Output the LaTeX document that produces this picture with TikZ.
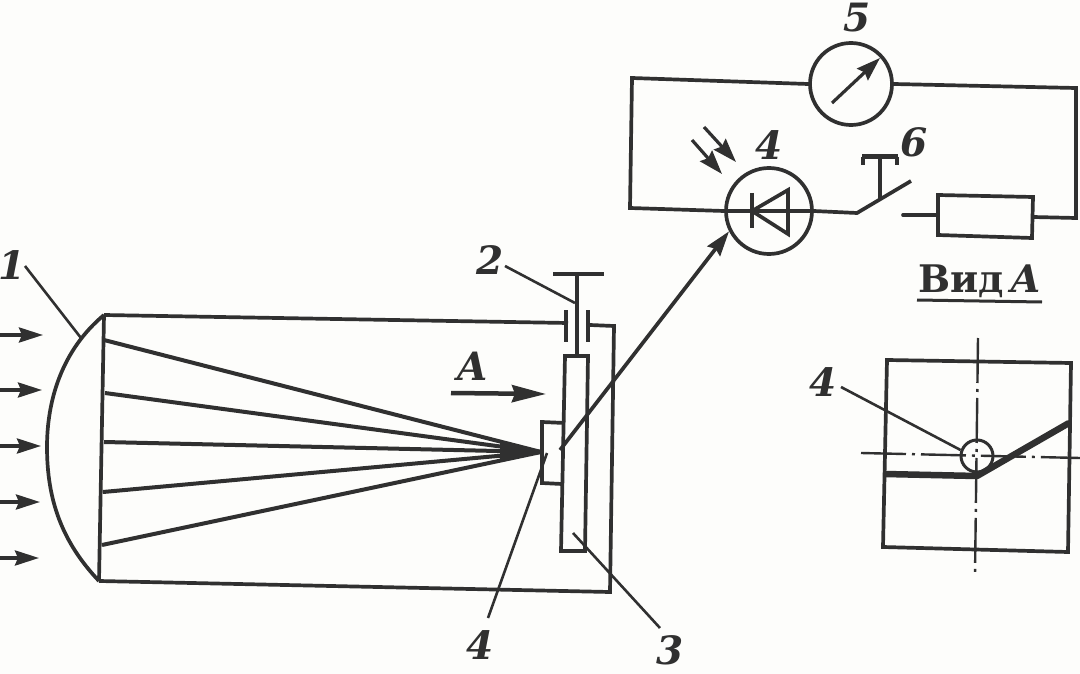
\documentclass[tikz,border=0pt]{standalone}
\usepackage{fontspec}
\setmainfont{DejaVu Serif}
\usetikzlibrary{arrows.meta}
\definecolor{ink}{HTML}{303030}
\definecolor{paper}{HTML}{FDFDFB}
\tikzset{
  wire/.style={draw=ink,line width=3.7pt,line join=miter},
  thin wire/.style={draw=ink,line width=2.6pt},
  ray/.style={draw=ink,line width=4pt},
  thick wire/.style={draw=ink,line width=6.5pt,line join=round},
  inarrow/.style={draw=ink,line width=3.6pt,-{Stealth[length=24pt,width=15pt,inset=3pt]}},
  smallarrow/.style={draw=ink,line width=3.2pt,-{Stealth[length=24pt,width=16pt,inset=3pt]}},
  axisline/.style={draw=ink,line width=2.4pt,dash pattern=on 45pt off 6pt on 3pt off 6pt},
  num/.style={font=\fontsize{39}{39}\selectfont\bfseries\itshape,text=ink,inner sep=0pt},
  round symbol/.style={circle,draw=ink,line width=3.7pt,inner sep=0pt,minimum size=#1},
}
\begin{document}
\begin{tikzpicture}[x=1pt,y=-1pt]
\useasboundingbox[fill=paper] (0,0) rectangle (1080,674);
% lens and tube
\coordinate (lt) at (104,315);
\coordinate (lb) at (99,581);
\coordinate (pl) at (568,323);
\coordinate (pr) at (590,325);
\coordinate (trc) at (614,326);
\coordinate (brc) at (610,592);
\draw[wire] (lt) .. controls (62,350) and (47,400) .. (47,447) .. controls (47,500) and (62,542) .. (lb);
\draw[wire] (lt) -- (lb);
\draw[wire] (lt) -- (pl);
\draw[wire] (pr) -- (trc) -- (brc) -- (lb);
% gland plates and push rod
\coordinate (pla) at (566,310); \coordinate (plb) at (566,342);
\coordinate (pra) at (588,310); \coordinate (prb) at (588,342);
\draw[wire] (pla) -- (plb);
\draw[wire] (pra) -- (prb);
\coordinate (rodt) at (577,274); \coordinate (rodb) at (577,356);
\coordinate (bara) at (553,274); \coordinate (barb) at (604,274);
\draw[wire] (bara) -- (barb);
\draw[wire] (rodt) -- (rodb);
% plate 3 and element 4
\draw[wire] (565,356) -- (588,356) -- (585,551) -- (561,551) -- cycle;
\draw[wire] (565,423) -- (542,422) -- (542,483) -- (562,484);
% rays
\coordinate (focus) at (541,452);
\foreach \n/\x/\y in {r1/104/340,r2/105/393,r3/104/442,r4/103/492,r5/102/545}{
  \coordinate (\n) at (\x,\y);
  \draw[ray] (\n) -- (focus);
}
\fill[ink] (500,442) -- (500,462) -- (focus) -- cycle;
% incoming light
\foreach \n/\x/\y in {a/43/335,b/42/390,c/41/446,d/40/502,e/39/558}{
  \coordinate (\n1) at (0,\y);
  \coordinate (\n2) at (\x,\y);
  \draw[inarrow] (\n1) -- (\n2);
}
% view arrow A
\coordinate (vaa) at (451,393); \coordinate (vab) at (546,394);
\draw[draw=ink,line width=4.5pt,-{Stealth[length=34pt,width=17pt,inset=3pt]}] (vaa) -- (vab);
\node[num] (labA) at (473,366) {A};
% circuit
\node[round symbol=82pt] (meter) at (851,84) {};
\node[round symbol=86pt] (diode) at (769,211) {};
\coordinate (c1) at (632,78);
\coordinate (c2) at (630,208);
\coordinate (sw0) at (857,213);
\coordinate (sw1) at (911,181);
\coordinate (c3) at (1076,88);
\coordinate (c4) at (1076,218);
\coordinate (rl) at (938,215);
\coordinate (rr) at (1033,217);
\coordinate (lead) at (903,215);
\draw[wire] (meter.west) -- (c1) -- (c2) -- (diode.west);
\draw[wire] (meter.east) -- (c3) -- (c4) -- (rr);
\draw[wire] (diode.west) -- (diode.east) -- (sw0) -- (sw1);
\draw[wire,line cap=round] (lead) -- (rl);
\draw[wire] (938,195) -- (1033,197) -- (1032,238) -- (938,235) -- cycle;
% push button
\coordinate (tb) at (880,200); \coordinate (tt) at (880,157);
\draw[draw=ink,line width=4pt] (tb) -- (tt);
\draw[draw=ink,line width=5pt] (862,157) -- (898,157);
\draw[draw=ink,line width=3.5pt] (863,157) -- (863,165);
\draw[draw=ink,line width=3.5pt] (897,157) -- (897,165);
% meter needle
\coordinate (na) at (832,103); \coordinate (nb) at (880,58);
\draw[smallarrow] (na) -- (nb);
% diode symbol
\draw[wire] (752,193) -- (752,228);
\draw[wire] (752,211) -- (788,190) -- (788,234) -- cycle;
% light on diode
\coordinate (l1a) at (704,127); \coordinate (l1b) at (736,162);
\coordinate (l2a) at (692,140); \coordinate (l2b) at (722,174);
\draw[smallarrow] (l1a) -- (l1b);
\draw[smallarrow] (l2a) -- (l2b);
% link from element to diode
\coordinate (elem) at (560,450);
\draw[draw=ink,line width=3.7pt,-{Stealth[length=25pt,width=16pt,inset=3pt]}] (elem) -- (diode.207);
% leaders
\draw[thin wire] (505,266) -- (575,303);
\draw[thin wire] (547,453) -- (488,618);
\draw[thin wire] (573,533) -- (660,628);
\draw[thin wire] (25,266) -- (81,338);
% view A
\draw[wire] (887,360) -- (1071,363) -- (1068,552) -- (883,547) -- cycle;
\coordinate (vt) at (978,338); \coordinate (vb) at (975,575);
\coordinate (hl) at (861,453); \coordinate (hr) at (1080,458);
\draw[axisline] (vt) -- (vb);
\draw[axisline] (hl) -- (hr);
\node[circle,draw=ink,line width=3pt,inner sep=0pt,minimum size=32pt] (spot) at (977,456) {};
\draw[thick wire] (885,474) -- (977,476) -- (1069,423);
\coordinate (l4) at (841,387);
\draw[thin wire] (l4) -- (spot.160);
% labels
\node[num] (n1) at (12,265) {1};
\node[num] (n2) at (490,260) {2};
\node[num] (n3) at (670,650) {3};
\node[num] (n4a) at (480,645) {4};
\node[num] (n4b) at (769,145) {4};
\node[num] (n4c) at (823,382) {4};
\node[num] (n5) at (857,18) {5};
\node[num] (n6) at (914,142) {6};
\node[font=\fontsize{38}{38}\selectfont\bfseries,text=ink,inner sep=0pt] (vid) at (980,281) {Вид\,\textit{А}};
\draw[draw=ink,line width=3pt] (917,300) -- (1042,302);
\end{tikzpicture}
\end{document}
